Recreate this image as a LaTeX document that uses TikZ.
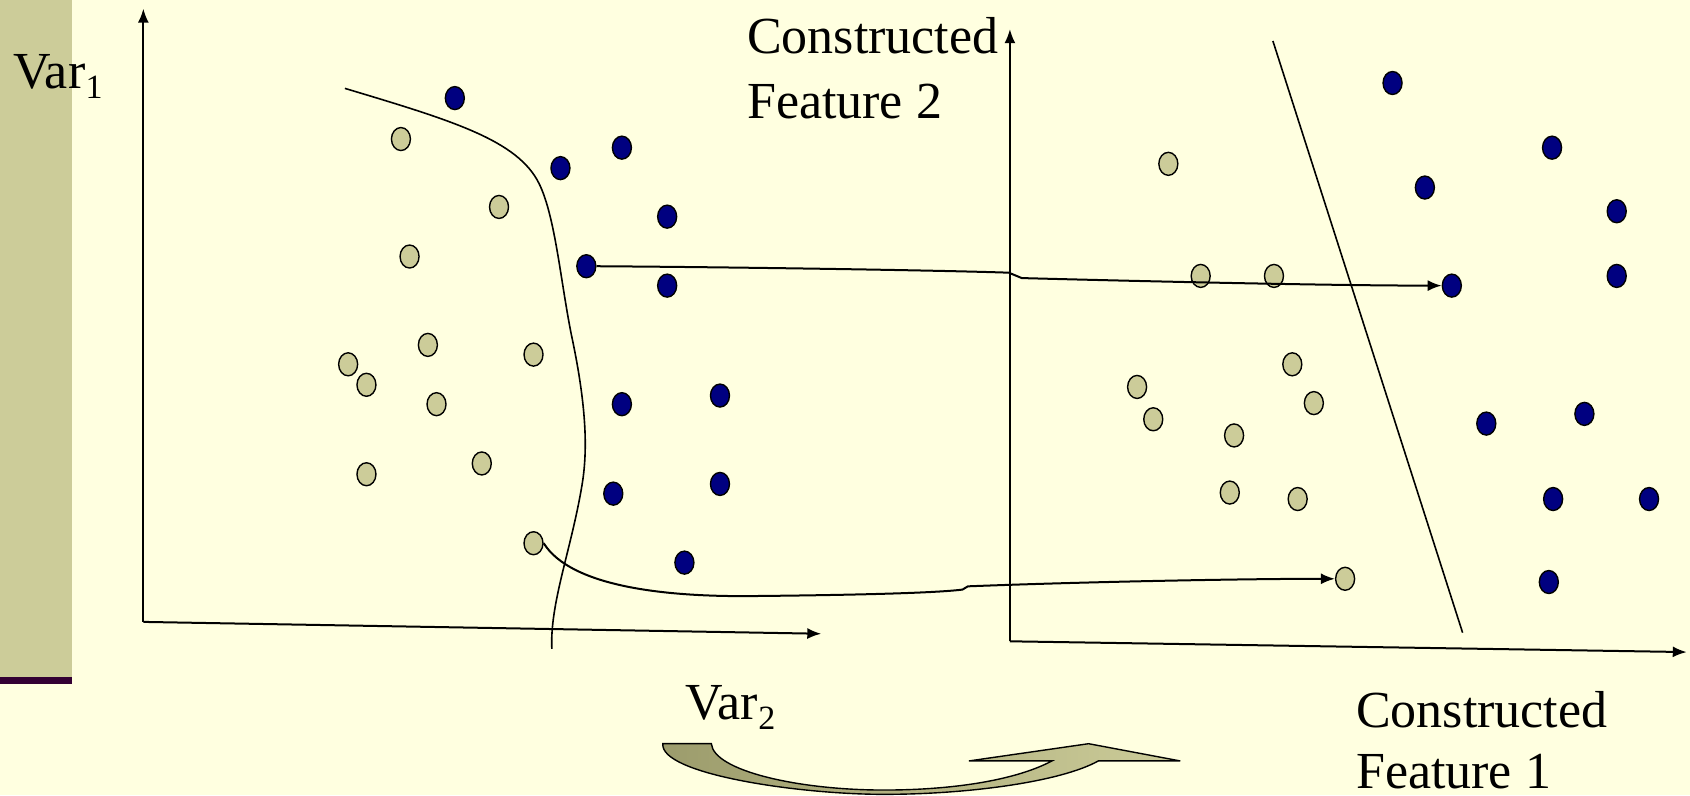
\documentclass[tikz,border=0pt]{standalone}
\usepackage{fontspec}
\setmainfont{Liberation Serif}
\usetikzlibrary{arrows.meta,shapes.geometric}
\definecolor{paper}{HTML}{FFFFE0}
\definecolor{sage}{HTML}{CCCC99}
\definecolor{sagedark}{HTML}{9C9C6C}
\definecolor{plum}{HTML}{330033}
\definecolor{navyblue}{HTML}{000080}
\begin{document}
\begin{tikzpicture}[x=1.0778pt,y=-1.0778pt,
  axis/.style={line width=2pt,-{Latex[length=14pt,width=11pt]}},
  bound/.style={line width=1.6pt},
  link/.style={line width=2pt,-{Latex[length=14pt,width=11pt]}},
  dotbase/.style={ellipse,draw=black,line width=1.4pt,minimum width=19pt,minimum height=23pt,inner sep=0pt},
  classa/.style={dotbase,fill=navyblue},
  classb/.style={dotbase,fill=sage},
  lbl/.style={anchor=base west,inner sep=0pt,font=\fontsize{52}{62}\selectfont},
  sublbl/.style={anchor=base west,inner sep=0pt,font=\fontsize{34}{40}\selectfont}
]
% page and side bar
\fill[paper] (0,0) rectangle (1568,738);
\useasboundingbox (0,0) rectangle (1568,738);
\fill[sage] (0,0) rectangle (67,628);
\fill[plum] (0,628) rectangle (67,635);

% left plot: original variables
\coordinate (lo) at (133,577);
\coordinate (ly) at (133,8);
\coordinate (lx) at (762,588);
\draw[axis] (lo) -- (ly);
\draw[axis] (lo) -- (lx);

% right plot: constructed features
\coordinate (ro) at (937,595);
\coordinate (ry) at (937,27);
\coordinate (rx) at (1565,605);
\draw[axis] (ro) -- (ry);
\draw[axis] (ro) -- (rx);

% curved boundary in the original space
\draw[bound] (320,82) .. controls (420,112) and (480,130) .. (500,170)
  .. controls (515,200) and (520,260) .. (530,310)
  .. controls (545,380) and (545,420) .. (540,450)
  .. controls (530,510) and (510,560) .. (512,602);

% straight boundary in the feature space
\coordinate (s1) at (1181,38);
\coordinate (s2) at (1357,587);
\draw[bound] (s1) -- (s2);

% left plot, class A
\node[classa] (la1) at (422,91) {};
\node[classa] (la2) at (577,137) {};
\node[classa] (la3) at (520,156) {};
\node[classa] (la4) at (619,201) {};
\node[classa] (la5) at (544,247) {};
\node[classa] (la6) at (619,265) {};
\node[classa] (la7) at (577,375) {};
\node[classa] (la8) at (668,367) {};
\node[classa] (la9) at (569,458) {};
\node[classa] (la10) at (668,449) {};
\node[classa] (la11) at (635,522) {};

% left plot, class B
\node[classb] (lb1) at (372,129) {};
\node[classb] (lb2) at (463,192) {};
\node[classb] (lb3) at (380,238) {};
\node[classb] (lb4) at (397,320) {};
\node[classb] (lb5) at (495,329) {};
\node[classb] (lb6) at (323,338) {};
\node[classb] (lb7) at (340,357) {};
\node[classb] (lb8) at (405,375) {};
\node[classb] (lb9) at (340,440) {};
\node[classb] (lb10) at (447,430) {};
\node[classb] (lb11) at (495,504) {};

% right plot, class B
\node[classb] (rb1) at (1084,152) {};
\node[classb] (rb2) at (1114,256) {};
\node[classb] (rb3) at (1182,256) {};
\node[classb] (rb4) at (1199,338) {};
\node[classb] (rb5) at (1055,359) {};
\node[classb] (rb6) at (1219,374) {};
\node[classb] (rb7) at (1070,389) {};
\node[classb] (rb8) at (1145,404) {};
\node[classb] (rb9) at (1141,457) {};
\node[classb] (rb10) at (1204,463) {};
\node[classb] (rb11) at (1248,537) {};

% right plot, class A
\node[classa] (ra1) at (1292,77) {};
\node[classa] (ra2) at (1440,137) {};
\node[classa] (ra3) at (1322,174) {};
\node[classa] (ra4) at (1500,196) {};
\node[classa] (ra5) at (1500,256) {};
\node[classa] (ra6) at (1347,265) {};
\node[classa] (ra7) at (1379,393) {};
\node[classa] (ra8) at (1470,384) {};
\node[classa] (ra9) at (1441,463) {};
\node[classa] (ra10) at (1530,463) {};
\node[classa] (ra11) at (1437,540) {};

% mapping of two samples
\draw[link] (la5.east) .. controls (700,248) and (880,251) .. (936,253)
  -- (948,258) .. controls (1100,262) and (1250,265) .. (ra6.west);
\draw[link] (lb11.east) .. controls (530,545) and (620,554) .. (700,553)
  .. controls (800,552) and (870,550) .. (893,547)
  -- (898,544) .. controls (1000,540) and (1150,537) .. (rb11.west);

% labels
\node[lbl] (v1) at (12,82) {Var};
\node[sublbl] (v1s) at (v1.base east) [yshift=-10pt] {1};
\node[lbl] (v2) at (636,668) {Var};
\node[sublbl] (v2s) at (v2.base east) [yshift=-10pt] {2};
\node[lbl] (f2a) at (693,50) {Constructed};
\node[lbl] (f2b) at (693,110) {Feature 2};
\node[lbl] (f1a) at (1258,675) {Constructed};
\node[lbl] (f1b) at (1258,732) {Feature 1};

% big curved transformation arrow
\draw[line width=1.4pt, left color=sagedark, right color=sage]
  (615,690) .. controls (612,718) and (740,737) .. (820,737)
  .. controls (900,737) and (985,725) .. (1019,706)
  -- (1095,706) -- (1010,690) -- (899,706) -- (976,706)
  .. controls (940,725) and (880,733) .. (820,733)
  .. controls (740,733) and (662,715) .. (660,690) -- cycle;
\end{tikzpicture}
\end{document}
